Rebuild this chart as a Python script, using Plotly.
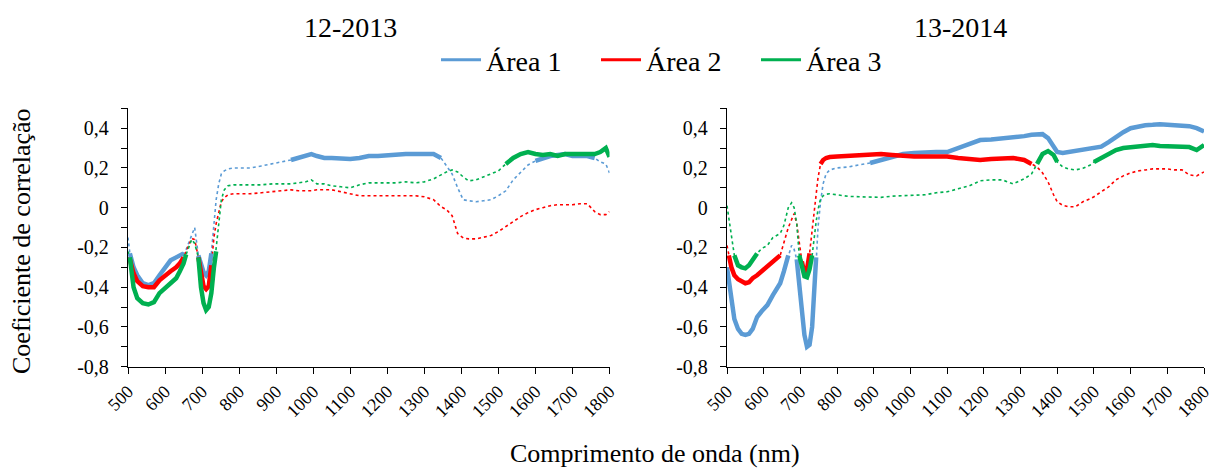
import plotly.graph_objects as go

# ---------------- data ----------------
WL_2013 = [500, 505, 515, 525, 540, 555, 570, 585, 600, 615, 630, 640, 650, 657, 665, 672, 680,
           690, 697, 704, 711, 718, 725, 732, 738, 745, 752, 760, 770, 785, 800, 830, 860, 890,
           920, 940, 960, 980, 995, 1010, 1030, 1050, 1075, 1100, 1125, 1150, 1175, 1200, 1225,
           1250, 1275, 1300, 1325, 1345, 1360, 1375, 1390, 1405, 1420, 1440, 1460, 1480, 1500,
           1520, 1540, 1560, 1580, 1600, 1620, 1640, 1660, 1680, 1700, 1720, 1740, 1760, 1775,
           1790, 1800]

A1_2013 = [-0.15, -0.23, -0.30, -0.34, -0.38, -0.39, -0.38, -0.34, -0.30, -0.265, -0.25, -0.24, -0.23,
           -0.21, -0.17, -0.13, -0.10,
           -0.24, -0.28, -0.325, -0.34, -0.32, -0.23, -0.06, 0.04, 0.12, 0.17, 0.185, 0.195, 0.20,
           0.20, 0.20, 0.21, 0.22,
           0.23, 0.24, 0.25, 0.26, 0.27, 0.26, 0.25, 0.25, 0.245, 0.245, 0.25, 0.26, 0.26, 0.265, 0.265,
           0.27, 0.27, 0.27, 0.27, 0.25, 0.21, 0.17, 0.10, 0.04, 0.035, 0.03, 0.035, 0.04, 0.06,
           0.085, 0.14, 0.18, 0.215, 0.235, 0.25, 0.26, 0.265, 0.27, 0.26, 0.26, 0.26, 0.25, 0.23,
           0.22, 0.175]

A2_2013 = [-0.25, -0.26, -0.33, -0.37, -0.395, -0.40, -0.40, -0.365, -0.34, -0.32, -0.30, -0.28, -0.25,
           -0.22, -0.18, -0.155, -0.16,
           -0.25, -0.34, -0.395, -0.41, -0.395, -0.29, -0.15, -0.08, -0.02, 0.03, 0.05, 0.065, 0.07,
           0.07, 0.07, 0.075, 0.08,
           0.085, 0.09, 0.085, 0.085, 0.085, 0.09, 0.09, 0.09, 0.08, 0.07, 0.06, 0.06, 0.06, 0.06, 0.06,
           0.06, 0.06, 0.055, 0.04, 0.005, -0.01, -0.04, -0.13, -0.152, -0.157, -0.157, -0.15, -0.14,
           -0.12, -0.095, -0.07, -0.045, -0.025, -0.01, 0.0, 0.01, 0.015, 0.015, 0.015, 0.02, 0.02,
           -0.02, -0.035, -0.035, -0.02]

A3_2013 = [-0.22, -0.25, -0.40, -0.455, -0.48, -0.487, -0.475, -0.43, -0.405, -0.38, -0.355, -0.32,
           -0.28, -0.235, -0.19, -0.16, -0.18,
           -0.25, -0.40, -0.48, -0.515, -0.50, -0.43, -0.30, -0.22, -0.06, 0.04, 0.09, 0.11, 0.115,
           0.115, 0.115, 0.115, 0.12,
           0.12, 0.12, 0.125, 0.13, 0.14, 0.12, 0.12, 0.11, 0.105, 0.10, 0.115, 0.125, 0.125, 0.125,
           0.125, 0.13, 0.125, 0.13, 0.145, 0.165, 0.18, 0.19, 0.18, 0.155, 0.135, 0.14, 0.155, 0.17,
           0.185, 0.22, 0.25, 0.27, 0.28, 0.27, 0.265, 0.27, 0.26, 0.27, 0.27, 0.27, 0.27, 0.27, 0.28,
           0.30, 0.255]

SIG_A1_2013 = [(505, 650), (690, 725), (930, 1345), (1600, 1760)]
SIG_A2_2013 = [(505, 650), (690, 725)]
SIG_A3_2013 = [(505, 657), (690, 738), (1520, 1800)]

WL_2014 = [500, 505, 512, 520, 530, 540, 550, 560, 570, 582, 595, 610, 625, 640, 645, 655, 667, 676,
           683, 690, 697, 704, 711, 718, 725, 732, 738, 743, 748, 755, 762, 770, 780, 800, 830, 860,
           890, 920, 950, 980, 1010, 1040, 1070, 1100, 1130, 1160, 1190, 1220, 1250, 1280, 1310,
           1330, 1345, 1360, 1375, 1390, 1400, 1415, 1430, 1450, 1470, 1490, 1500, 1520, 1540, 1560,
           1580, 1600, 1620, 1640, 1660, 1680, 1700, 1720, 1740, 1760, 1780, 1800]

A1_2014 = [-0.30, -0.36, -0.47, -0.56, -0.61, -0.635, -0.64, -0.635, -0.61, -0.55, -0.52, -0.49, -0.44,
           -0.40, -0.38, -0.32, -0.24, -0.19,
           -0.21, -0.26, -0.38, -0.55, -0.64, -0.70, -0.69, -0.60, -0.45, -0.25, -0.10, 0.03, 0.12,
           0.17, 0.19, 0.20, 0.205, 0.215,
           0.225, 0.24, 0.26, 0.27, 0.275, 0.28, 0.28, 0.28, 0.30, 0.325, 0.34, 0.343, 0.347, 0.354,
           0.36, 0.367, 0.37, 0.37, 0.35, 0.31, 0.28, 0.275, 0.28, 0.285, 0.29, 0.295, 0.30, 0.307,
           0.33, 0.357, 0.38, 0.40, 0.41, 0.415, 0.417, 0.42, 0.417, 0.415, 0.41, 0.41, 0.40, 0.383]

A2_2014 = [-0.19, -0.24, -0.30, -0.34, -0.36, -0.37, -0.38, -0.375, -0.355, -0.34, -0.32, -0.30,
           -0.275, -0.25, -0.24, -0.18, -0.10, -0.06,
           -0.03, -0.08, -0.19, -0.27, -0.33, -0.31, -0.23, -0.12, -0.02, 0.07, 0.15, 0.22, 0.24,
           0.25, 0.255, 0.257, 0.26, 0.265,
           0.267, 0.27, 0.265, 0.26, 0.257, 0.257, 0.257, 0.257, 0.25, 0.245, 0.24, 0.245, 0.248,
           0.25, 0.24, 0.22, 0.205, 0.175, 0.13, 0.065, 0.03, 0.012, 0.005, 0.005, 0.03, 0.045,
           0.055, 0.08, 0.105, 0.14, 0.16, 0.175, 0.185, 0.19, 0.195, 0.195, 0.195, 0.19, 0.19,
           0.165, 0.16, 0.18]

A3_2014 = [0.01, -0.05, -0.14, -0.24, -0.29, -0.30, -0.305, -0.29, -0.265, -0.23, -0.205, -0.19,
           -0.15, -0.135, -0.13, -0.09, 0.0, 0.025,
           0.0, -0.08, -0.24, -0.29, -0.345, -0.35, -0.31, -0.24, -0.14, -0.07, -0.01, 0.045, 0.06,
           0.068, 0.07, 0.065, 0.057, 0.055,
           0.055, 0.052, 0.058, 0.06, 0.06, 0.065, 0.075, 0.08, 0.095, 0.11, 0.135, 0.14, 0.14, 0.12,
           0.145, 0.17, 0.22, 0.27, 0.285, 0.265, 0.23, 0.205, 0.195, 0.19, 0.198, 0.215, 0.23,
           0.25, 0.27, 0.29, 0.30, 0.305, 0.31, 0.312, 0.315, 0.31, 0.31, 0.31, 0.31, 0.305, 0.29,
           0.315]

SIG_A1_2014 = [(500, 667), (690, 743), (890, 1800)]
SIG_A2_2014 = [(505, 645), (704, 725), (755, 1330)]
SIG_A3_2014 = [(520, 582), (697, 732), (1345, 1400), (1500, 1800)]

SERIES_NAMES = ["Área 1", "Área 2", "Área 3"]
PANEL_TITLES = ["12-2013", "13-2014"]
X_TICKS = list(range(500, 1801, 100))
Y_TICKS = [-0.8, -0.6, -0.4, -0.2, 0, 0.2, 0.4]
Y_TICK_TEXT = ["-0,8", "-0,6", "-0,4", "-0,2", "0", "0,2", "0,4"]

COLORS = ["#5B9BD5", "#FF0000", "#00B050"]
FONT = "Liberation Serif"

W, H = 1212, 468

fig = go.Figure()


def in_sig(w, ranges):
    return any(a <= w <= b for a, b in ranges)


panels = [
    (WL_2013, [A1_2013, A2_2013, A3_2013], [SIG_A1_2013, SIG_A2_2013, SIG_A3_2013], "x", "y"),
    (WL_2014, [A1_2014, A2_2014, A3_2014], [SIG_A1_2014, SIG_A2_2014, SIG_A3_2014], "x2", "y2"),
]

for wl, vals, sigs, xa, ya in panels:
    for i, v in enumerate(vals):
        fig.add_trace(go.Scatter(x=wl, y=v, mode="lines", xaxis=xa, yaxis=ya,
                                 line=dict(color=COLORS[i], width=1.6, dash="dot"),
                                 showlegend=False, hoverinfo="skip"))
    for i, v in enumerate(vals):
        yt = [val if in_sig(w, sigs[i]) else None for w, val in zip(wl, v)]
        fig.add_trace(go.Scatter(x=wl, y=yt, mode="lines", xaxis=xa, yaxis=ya,
                                 line=dict(color=COLORS[i], width=4.5),
                                 connectgaps=False, showlegend=False, hoverinfo="skip"))

for i, name in enumerate(SERIES_NAMES):
    fig.add_trace(go.Scatter(x=[None], y=[None], mode="lines", name=name,
                             line=dict(color=COLORS[i], width=3)))

xdom = [[128 / W, 609.5 / W], [727 / W, 1204 / W]]
ydom = [1 - 366.7 / H, 1 - 108.3 / H]

axis_common = dict(showgrid=False, zeroline=False, showline=True, linecolor="#000000",
                   linewidth=1.3, ticks="outside", tickcolor="#000000", ticklen=6,
                   tickwidth=1.3, automargin=False)

layout = dict(
    width=W, height=H,
    margin=dict(l=0, r=0, t=0, b=0),
    paper_bgcolor="white", plot_bgcolor="white",
    font=dict(family=FONT, color="#000000"),
    showlegend=True,
    legend=dict(orientation="h", x=436 / W, xanchor="left", y=1 - 60 / H, yanchor="middle",
                font=dict(family=FONT, size=28, color="#000000"), bgcolor="rgba(0,0,0,0)",
                itemwidth=40, entrywidth=105, entrywidthmode="pixels"),
)
for k, (xd, xn, yn) in enumerate(zip(xdom, ["xaxis", "xaxis2"], ["yaxis", "yaxis2"])):
    anchor_y = "y" if k == 0 else "y2"
    anchor_x = "x" if k == 0 else "x2"
    layout[xn] = dict(domain=xd, range=[500, 1800], tickvals=X_TICKS,
                      ticktext=[str(t) for t in X_TICKS], tickangle=-45, anchor=anchor_y,
                      ticklabeloverflow="allow",
                      tickfont=dict(family=FONT, size=18, color="#000000"),
                      **axis_common)
    layout[yn] = dict(domain=ydom, range=[-0.8, 0.5], tickvals=Y_TICKS, ticktext=Y_TICK_TEXT,
                      anchor=anchor_x, ticklabelstandoff=8,
                      tickfont=dict(family=FONT, size=20, color="#000000"),
                      minor=dict(dtick=0.1, tick0=0, ticks="outside", ticklen=6,
                                 tickcolor="#000000", tickwidth=1.3),
                      **axis_common)

annotations = [
    dict(text=PANEL_TITLES[0], x=350 / W, y=1 - 27 / H, xref="paper", yref="paper",
         showarrow=False, font=dict(family=FONT, size=28, color="#000000"),
         xanchor="center", yanchor="middle"),
    dict(text=PANEL_TITLES[1], x=960 / W, y=1 - 27 / H, xref="paper", yref="paper",
         showarrow=False, font=dict(family=FONT, size=28, color="#000000"),
         xanchor="center", yanchor="middle"),
    dict(text="Coeficiente de correlação", x=22 / W, y=1 - 241 / H, xref="paper", yref="paper",
         showarrow=False, textangle=-90, font=dict(family=FONT, size=26, color="#000000"),
         xanchor="center", yanchor="middle"),
    dict(text="Comprimento de onda (nm)", x=655 / W, y=1 - 453 / H, xref="paper", yref="paper",
         showarrow=False, font=dict(family=FONT, size=26, color="#000000"),
         xanchor="center", yanchor="middle"),
]
layout["annotations"] = annotations

fig.update_layout(**layout)
fig.write_html("out.html")
